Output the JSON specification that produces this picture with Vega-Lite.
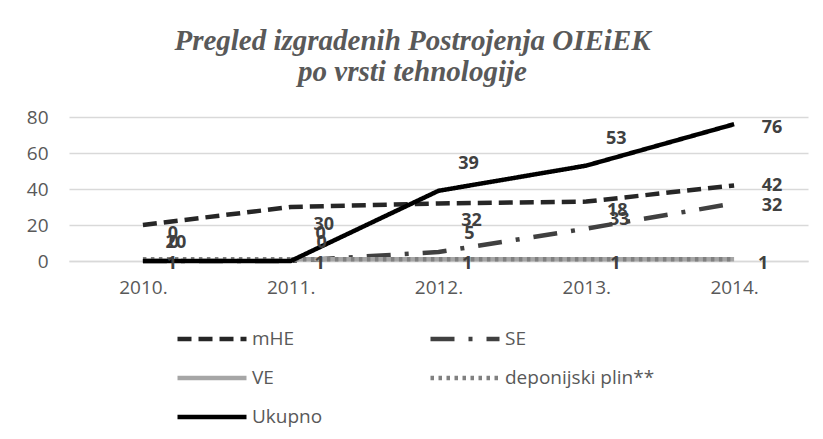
{
  "$schema": "https://vega.github.io/schema/vega-lite/v6.json",
  "width": 739,
  "height": 144,
  "autosize": "none",
  "padding": {"left": 69, "top": 117, "right": 15, "bottom": 178},
  "background": "white",
  "title": {
    "text": ["Pregled izgradenih Postrojenja OIEiEK", "po vrsti tehnologije"],
    "font": "Liberation Serif",
    "fontSize": 29,
    "fontStyle": "italic",
    "fontWeight": "bold",
    "color": "#595959",
    "anchor": "middle",
    "dx": -26,
    "offset": 21,
    "lineHeight": 31
  },
  "config": {
    "view": {"stroke": null},
    "legend": {
      "orient": "none",
      "direction": "horizontal",
      "legendX": 129,
      "legendY": 208,
      "columns": 2,
      "columnPadding": 98,
      "rowPadding": 15,
      "symbolType": "M-3,0H3",
      "symbolSize": 529,
      "symbolStrokeWidth": 4.5,
      "labelFont": "Open Sans",
      "labelFontSize": 19,
      "labelColor": "#595959",
      "labelOffset": 26
    }
  },
  "data": {
    "values": [
      {"godina": "2010.", "serija": "mHE", "vrijednost": 20},
      {"godina": "2011.", "serija": "mHE", "vrijednost": 30},
      {"godina": "2012.", "serija": "mHE", "vrijednost": 32},
      {"godina": "2013.", "serija": "mHE", "vrijednost": 33},
      {"godina": "2014.", "serija": "mHE", "vrijednost": 42},
      {"godina": "2010.", "serija": "SE", "vrijednost": 0},
      {"godina": "2011.", "serija": "SE", "vrijednost": 0},
      {"godina": "2012.", "serija": "SE", "vrijednost": 5},
      {"godina": "2013.", "serija": "SE", "vrijednost": 18},
      {"godina": "2014.", "serija": "SE", "vrijednost": 32},
      {"godina": "2011.", "serija": "VE", "vrijednost": 1},
      {"godina": "2012.", "serija": "VE", "vrijednost": 1},
      {"godina": "2013.", "serija": "VE", "vrijednost": 1},
      {"godina": "2014.", "serija": "VE", "vrijednost": 1},
      {"godina": "2010.", "serija": "deponijski plin**", "vrijednost": 1},
      {"godina": "2011.", "serija": "deponijski plin**", "vrijednost": 1},
      {"godina": "2012.", "serija": "deponijski plin**", "vrijednost": 1},
      {"godina": "2013.", "serija": "deponijski plin**", "vrijednost": 1},
      {"godina": "2014.", "serija": "deponijski plin**", "vrijednost": 1},
      {"godina": "2010.", "serija": "Ukupno", "vrijednost": 0},
      {"godina": "2011.", "serija": "Ukupno", "vrijednost": 0},
      {"godina": "2012.", "serija": "Ukupno", "vrijednost": 39},
      {"godina": "2013.", "serija": "Ukupno", "vrijednost": 53},
      {"godina": "2014.", "serija": "Ukupno", "vrijednost": 76}
    ]
  },
  "encoding": {
    "x": {
      "field": "godina",
      "type": "ordinal",
      "scale": {"type": "point", "padding": 0.5},
      "axis": {
        "title": null,
        "labelAngle": 0,
        "labelFont": "Open Sans",
        "labelFontSize": 19,
        "labelColor": "#595959",
        "labelPadding": 17,
        "ticks": false,
        "domainColor": "#d9d9d9",
        "domainWidth": 1.5
      }
    },
    "y": {
      "field": "vrijednost",
      "type": "quantitative",
      "scale": {"domain": [0, 80], "nice": false},
      "axis": {
        "title": null,
        "values": [0, 20, 40, 60, 80],
        "labelFont": "Open Sans",
        "labelFontSize": 19,
        "labelColor": "#595959",
        "labelPadding": 21,
        "ticks": false,
        "domain": false,
        "gridColor": "#d9d9d9",
        "gridWidth": 1.5
      }
    }
  },
  "layer": [
    {
      "mark": {"type": "line", "strokeWidth": 4.5, "strokeCap": "butt", "strokeJoin": "round"},
      "encoding": {
        "color": {
          "field": "serija",
          "type": "nominal",
          "title": null,
          "scale": {
            "domain": ["mHE", "SE", "VE", "deponijski plin**", "Ukupno"],
            "range": ["#262626", "#404040", "#a6a6a6", "#808080", "#000000"]
          }
        },
        "strokeDash": {
          "field": "serija",
          "type": "nominal",
          "title": null,
          "scale": {
            "domain": ["mHE", "SE", "VE", "deponijski plin**", "Ukupno"],
            "range": [[14, 7], [24, 14, 4, 14], [1, 0], [3.5, 4.5], [1, 0]]
          }
        }
      }
    },
    {
      "transform": [{"filter": "datum.serija == 'Ukupno' && datum.godina != '2014.'"}],
      "mark": {"type": "text", "dx": 30, "dy": -27, "font": "Open Sans", "fontSize": 18, "fontWeight": "bold", "color": "#404040"},
      "encoding": {"text": {"field": "vrijednost", "type": "quantitative"}}
    },
    {
      "transform": [{"filter": "datum.serija == 'Ukupno' && datum.godina == '2014.'"}],
      "mark": {"type": "text", "dx": 38, "dy": 4, "font": "Open Sans", "fontSize": 18, "fontWeight": "bold", "color": "#404040"},
      "encoding": {"text": {"field": "vrijednost", "type": "quantitative"}}
    },
    {
      "transform": [{"filter": "datum.serija == 'mHE' && datum.godina != '2014.'"}],
      "mark": {"type": "text", "dx": 33, "dy": 18, "font": "Open Sans", "fontSize": 18, "fontWeight": "bold", "color": "#404040"},
      "encoding": {"text": {"field": "vrijednost", "type": "quantitative"}}
    },
    {
      "transform": [{"filter": "datum.serija == 'mHE' && datum.godina == '2014.'"}],
      "mark": {"type": "text", "dx": 38, "dy": 1, "font": "Open Sans", "fontSize": 18, "fontWeight": "bold", "color": "#404040"},
      "encoding": {"text": {"field": "vrijednost", "type": "quantitative"}}
    },
    {
      "transform": [{"filter": "datum.serija == 'SE' && datum.godina != '2014.'"}],
      "mark": {"type": "text", "dx": 31, "dy": -18, "font": "Open Sans", "fontSize": 18, "fontWeight": "bold", "color": "#404040"},
      "encoding": {"text": {"field": "vrijednost", "type": "quantitative"}}
    },
    {
      "transform": [{"filter": "datum.serija == 'SE' && datum.godina == '2014.'"}],
      "mark": {"type": "text", "dx": 38, "dy": 3, "font": "Open Sans", "fontSize": 18, "fontWeight": "bold", "color": "#404040"},
      "encoding": {"text": {"field": "vrijednost", "type": "quantitative"}}
    },
    {
      "transform": [{"filter": "datum.serija == 'deponijski plin**'"}],
      "mark": {"type": "text", "dx": 29, "dy": 5, "font": "Open Sans", "fontSize": 18, "fontWeight": "bold", "color": "#404040"},
      "encoding": {"text": {"field": "vrijednost", "type": "quantitative"}}
    }
  ]
}
